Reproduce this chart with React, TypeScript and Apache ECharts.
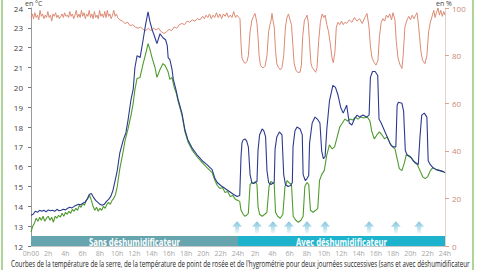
import React, { useEffect, useRef } from "react";
import * as echarts from "echarts";

// ---- Data (hour since start, value) ----
const temperature: [number, number][] = [
  [0, 13.55], [0.25, 13.6], [0.5, 13.75], [0.75, 13.7], [1.0, 13.8], [1.25, 13.75], [1.5, 13.8], [1.75, 13.72],
  [2.0, 13.82], [2.25, 13.78], [2.5, 13.8], [2.75, 13.75], [3.0, 13.85], [3.25, 13.78], [3.5, 13.8], [3.75, 13.85],
  [4.0, 13.82], [4.25, 13.9], [4.5, 13.95], [4.75, 13.92], [5.0, 14.0], [5.25, 14.05], [5.5, 14.1], [5.75, 14.08],
  [6.0, 14.15], [6.25, 14.2], [6.5, 14.35], [6.75, 14.6], [7.0, 14.65], [7.25, 14.45], [7.5, 14.3], [7.75, 14.2],
  [8.0, 14.1], [8.25, 14.05], [8.5, 14.1], [8.75, 14.25], [9.0, 14.35], [9.25, 14.5], [9.5, 14.8], [9.75, 15.3],
  [10.0, 15.8], [10.3, 16.7], [10.7, 17.35], [11.0, 17.7], [11.25, 18.35], [11.6, 19.4], [11.85, 19.9], [12.05, 21.0],
  [12.3, 21.6], [12.65, 21.5], [13.0, 22.4], [13.3, 23.2], [13.57, 23.8], [13.8, 23.3], [14.05, 22.9], [14.3, 22.6],
  [14.6, 22.2], [14.96, 22.7], [15.3, 22.5], [15.6, 22.4], [15.8, 22.1], [15.9, 21.5], [16.1, 21.4], [16.35, 20.9],
  [16.5, 20.4], [16.8, 19.9], [17.05, 19.4], [17.5, 18.7], [17.85, 17.85], [18.2, 17.35], [18.67, 16.95], [19.25, 16.6],
  [19.85, 16.3], [20.4, 16.1], [21.0, 15.85], [21.33, 15.4], [21.6, 15.2], [22.0, 15.05], [22.5, 14.9], [23.0, 14.75],
  [23.5, 14.6], [23.9, 14.5], [24.2, 14.55], [24.35, 16.5], [24.46, 17.2], [24.6, 17.35], [24.8, 17.4], [25.0, 17.3],
  [25.2, 17.0], [25.4, 15.6], [25.6, 15.2], [25.8, 15.15], [26.0, 15.2], [26.2, 15.25], [26.32, 16.8], [26.5, 17.6],
  [26.8, 17.9], [27.0, 17.8], [27.2, 17.5], [27.36, 15.8], [27.55, 15.2], [27.8, 15.1], [28.0, 15.15], [28.2, 15.2],
  [28.3, 16.9], [28.5, 17.5], [28.8, 17.75], [29.1, 17.6], [29.3, 15.6], [29.5, 15.1], [29.8, 15.0], [30.1, 15.05],
  [30.3, 15.2], [30.38, 17.0], [30.6, 17.8], [30.84, 18.0], [31.2, 17.9], [31.45, 17.6], [31.55, 15.6], [31.8, 15.3],
  [32.0, 15.4], [32.2, 15.55], [32.3, 17.2], [32.6, 18.2], [32.93, 18.5], [33.2, 18.4], [33.5, 18.2], [33.7, 16.8],
  [33.9, 16.4], [34.1, 16.5], [34.3, 17.9], [34.6, 19.3], [35.0, 20.1], [35.3, 20.0], [35.6, 19.6], [35.9, 19.0],
  [36.2, 18.7], [36.6, 19.1], [36.9, 18.2], [37.2, 18.1], [37.5, 18.4], [37.8, 18.6], [38.1, 18.5], [38.5, 18.6],
  [38.9, 18.5], [39.2, 18.6], [39.35, 20.5], [39.6, 20.8], [39.9, 20.8], [40.2, 20.6], [40.35, 18.4], [40.6, 18.2],
  [40.8, 18.0], [41.1, 17.7], [41.4, 17.4], [41.7, 17.1], [42.0, 17.0], [42.3, 17.0], [42.45, 19.1], [42.6, 19.25],
  [43.0, 19.2], [43.2, 18.8], [43.4, 16.8], [43.6, 16.6], [44.0, 16.5], [44.3, 16.3], [44.6, 16.2], [44.9, 16.1],
  [45.1, 17.5], [45.3, 18.6], [45.6, 18.7], [45.9, 18.5], [46.05, 16.3], [46.3, 16.1], [46.6, 15.95], [47.0, 15.85],
  [47.4, 15.8], [47.8, 15.75], [48.0, 15.7],
];

const dewPoint: [number, number][] = [
  [0, 12.7], [0.2, 13.0], [0.4, 13.15], [0.6, 13.4], [0.8, 13.25], [1.0, 13.45], [1.2, 13.3], [1.4, 13.5],
  [1.6, 13.25], [1.8, 13.4], [2.0, 13.5], [2.2, 13.3], [2.4, 13.45], [2.6, 13.2], [2.8, 13.5], [3.0, 13.4],
  [3.2, 13.55], [3.4, 13.45], [3.6, 13.65], [3.8, 13.5], [4.0, 13.7], [4.2, 13.6], [4.4, 13.75], [4.6, 13.65],
  [4.8, 13.85], [5.0, 13.75], [5.2, 13.9], [5.4, 13.8], [5.6, 14.05], [5.8, 13.95], [6.0, 14.15], [6.2, 14.05],
  [6.4, 14.3], [6.6, 14.4], [6.8, 14.55], [7.0, 14.3], [7.2, 14.0], [7.4, 13.8], [7.6, 13.95], [7.8, 13.75],
  [8.0, 13.9], [8.2, 13.8], [8.4, 14.0], [8.6, 13.9], [8.8, 14.1], [9.0, 14.2], [9.2, 14.1], [9.4, 14.3],
  [9.6, 14.4], [9.8, 14.6], [10.0, 15.0], [10.3, 15.9], [10.7, 16.8], [10.9, 17.3], [11.25, 17.9], [11.6, 18.6],
  [11.85, 19.2], [12.05, 19.9], [12.3, 20.45], [12.64, 20.5], [13.0, 21.2], [13.3, 21.7], [13.57, 22.2], [13.8, 21.9],
  [14.03, 21.5], [14.38, 21.0], [14.6, 20.5], [14.96, 20.9], [15.3, 21.2], [15.55, 21.1], [15.88, 20.8], [16.1, 20.4],
  [16.35, 20.5], [16.6, 20.0], [16.85, 19.7], [17.05, 19.3], [17.5, 18.6], [17.85, 17.75], [18.2, 17.25], [18.67, 16.85],
  [19.25, 16.5], [19.85, 16.2], [20.4, 15.95], [21.0, 15.7], [21.33, 15.3], [21.6, 15.05], [21.9, 14.9], [22.2, 14.95],
  [22.5, 14.7], [22.8, 14.75], [23.1, 14.5], [23.4, 14.55], [23.7, 14.35], [24.0, 14.3], [24.2, 14.25], [24.35, 13.8],
  [24.6, 13.6], [24.8, 13.5], [25.0, 13.55], [25.2, 13.65], [25.4, 15.1], [25.6, 15.2], [25.8, 15.15], [26.0, 15.25],
  [26.2, 15.1], [26.32, 14.0], [26.5, 13.6], [26.8, 13.5], [27.1, 13.6], [27.35, 13.7], [27.6, 15.0], [27.8, 15.25],
  [28.0, 15.2], [28.2, 15.15], [28.35, 13.7], [28.6, 13.5], [28.9, 13.4], [29.2, 13.6], [29.45, 15.0], [29.7, 15.3],
  [29.9, 15.2], [30.2, 15.1], [30.4, 13.5], [30.7, 13.3], [31.0, 13.2], [31.3, 13.3], [31.55, 13.5], [31.75, 15.0],
  [32.0, 15.2], [32.2, 15.1], [32.4, 13.8], [32.7, 13.7], [33.0, 13.8], [33.25, 13.9], [33.45, 15.3], [33.7, 15.6],
  [34.0, 15.8], [34.3, 16.6], [34.6, 17.1], [34.9, 16.9], [35.2, 17.0], [35.5, 17.5], [35.8, 18.0], [36.1, 18.2],
  [36.4, 18.4], [36.7, 18.3], [37.0, 18.4], [37.3, 18.35], [37.6, 18.5], [37.9, 18.4], [38.2, 18.5], [38.6, 18.45],
  [39.0, 18.5], [39.3, 18.3], [39.5, 17.8], [39.8, 17.4], [40.1, 17.6], [40.4, 17.75], [40.7, 17.6], [41.0, 17.4],
  [41.3, 17.5], [41.6, 17.2], [41.9, 17.0], [42.2, 16.9], [42.45, 16.4], [42.7, 15.9], [43.0, 15.8], [43.3, 16.2],
  [43.5, 16.6], [43.9, 16.5], [44.2, 16.4], [44.5, 16.2], [44.8, 16.1], [45.1, 15.8], [45.4, 15.5], [45.7, 15.4],
  [46.0, 15.5], [46.3, 15.8], [46.6, 15.95], [47.0, 15.85], [47.4, 15.8], [47.8, 15.75], [48.0, 15.7],
];

const humidity: [number, number][] = [
  [0, 96], [0.15, 97.5], [0.3, 95.5], [0.45, 98], [0.6, 96], [0.75, 97], [0.9, 95], [1.05, 99], [1.2, 96.5],
  [1.35, 97.5], [1.5, 95.5], [1.65, 97], [1.8, 96], [1.95, 98.5], [2.1, 96], [2.25, 97], [2.4, 94.5], [2.55, 97.5],
  [2.7, 96.5], [2.85, 98], [3.0, 96], [3.15, 97], [3.3, 95.5], [3.45, 96.5], [3.6, 97.5], [3.75, 96], [3.9, 98],
  [4.05, 96.5], [4.2, 97], [4.35, 96], [4.5, 98.5], [4.65, 96.5], [4.8, 97.5], [4.95, 95.5], [5.1, 97], [5.25, 99],
  [5.4, 96], [5.55, 97.5], [5.7, 96], [5.85, 99], [6.0, 96.5], [6.15, 98], [6.3, 95.5], [6.45, 97.5], [6.6, 96.5],
  [6.75, 99], [6.9, 96], [7.05, 97.5], [7.2, 95.5], [7.35, 98.5], [7.5, 96], [7.65, 97], [7.8, 95.5], [7.95, 99],
  [8.1, 96.5], [8.25, 97.5], [8.4, 96], [8.55, 98.5], [8.7, 96], [8.85, 99], [9.0, 96.5], [9.15, 97.5], [9.3, 95.5],
  [9.45, 97], [9.6, 99], [9.75, 96.5], [9.9, 97.5], [10.05, 96], [10.3, 95], [10.6, 94.5], [10.9, 93.5], [11.2, 94],
  [11.5, 92.5], [11.8, 93], [12.1, 92], [12.4, 91.5], [12.7, 92], [13.0, 91], [13.3, 90.5], [13.6, 91.5], [13.9, 90.5],
  [14.2, 91.5], [14.5, 90.8], [14.8, 91.5], [15.1, 90], [15.4, 89.3], [15.7, 90], [16.0, 91], [16.3, 90.5], [16.6, 92],
  [16.9, 91.5], [17.2, 93], [17.5, 93.5], [17.8, 93], [18.1, 94.5], [18.4, 94], [18.7, 95], [19.0, 94.5], [19.3, 95.5],
  [19.6, 95], [19.9, 96.5], [20.1, 95.5], [20.3, 97], [20.5, 96], [20.7, 97.5], [20.9, 95.5], [21.1, 97], [21.3, 96],
  [21.5, 98], [21.7, 96], [21.9, 97.5], [22.1, 95.5], [22.3, 97.5], [22.5, 96.5], [22.7, 98], [22.9, 96], [23.1, 97],
  [23.3, 96], [23.5, 98.5], [23.7, 96], [23.9, 97], [24.1, 96], [24.23, 95.5], [24.35, 85], [24.46, 79], [24.65, 77.5],
  [24.81, 76.7], [25.04, 77.5], [25.2, 80], [25.4, 90], [25.62, 95], [25.8, 96.5], [25.97, 97.7], [26.1, 95.5],
  [26.2, 93.5], [26.32, 88], [26.45, 80], [26.6, 76], [26.8, 75], [27.0, 75], [27.13, 75.5], [27.36, 80], [27.55, 90],
  [27.71, 93], [27.85, 95], [27.94, 97.7], [28.06, 94.7], [28.2, 92], [28.35, 82], [28.5, 76.5], [28.7, 75], [28.9, 74],
  [29.1, 75], [29.3, 80], [29.5, 92], [29.68, 96], [29.85, 97.5], [30.03, 95], [30.2, 93], [30.35, 85], [30.5, 77],
  [30.7, 74], [30.9, 73], [31.19, 73], [31.35, 76], [31.5, 88], [31.7, 95], [31.9, 96], [32.0, 97], [32.15, 94],
  [32.3, 85], [32.45, 77], [32.6, 75], [32.8, 74], [33.0, 73], [33.16, 75], [33.35, 86], [33.55, 94], [33.75, 97.5],
  [33.95, 96], [34.1, 97], [34.3, 93], [34.5, 90], [34.7, 85], [34.9, 79], [35.05, 77], [35.25, 82], [35.4, 92],
  [35.6, 94], [35.8, 93], [36.0, 94.5], [36.2, 93], [36.4, 94], [36.6, 93.5], [36.9, 95], [37.2, 94], [37.5, 96],
  [37.8, 94.5], [38.1, 95.5], [38.4, 93.5], [38.7, 96], [38.96, 97.7], [39.19, 92], [39.35, 84], [39.54, 79], [39.8, 77],
  [40.0, 76], [40.23, 78], [40.4, 88], [40.6, 94], [40.8, 95.5], [41.0, 94.5], [41.2, 97], [41.4, 96], [41.6, 97.5],
  [41.8, 95], [41.97, 98], [42.2, 95], [42.35, 86], [42.55, 79], [42.8, 76], [43.01, 74.6], [43.15, 80], [43.35, 92],
  [43.6, 95], [43.8, 96.5], [44.0, 95], [44.2, 97], [44.4, 95.5], [44.6, 97], [44.75, 98], [44.9, 94], [45.05, 88],
  [45.2, 82], [45.4, 78], [45.68, 76.6], [45.9, 80], [46.1, 90], [46.3, 94], [46.5, 96.5], [46.7, 99], [46.85, 96],
  [47.0, 98], [47.19, 100], [47.35, 97], [47.5, 99], [47.7, 96.5], [47.85, 98.5], [48.0, 97],
];

// hours where the dehumidifier is switched on (arrows)
const dehumidifierStarts = [23.9, 26.2, 28.05, 29.9, 32.0, 34.1, 39.2, 42.3, 45.0];
const arrowLevel = 12.95;

const periodLabels = ["Sans déshumidificateur", "Avec déshumidificateur"];
const periodBounds: [number, number][] = [[0, 24], [24, 48]];
const periodColors = ["#66a4ae", "#1db3cd"];

const leftUnit = "en °C";
const rightUnit = "en %";
const caption =
  "Courbes de la température de la serre, de la température de point de rosée et de l'hygrométrie pour deux journées successives (sans et avec déshumidificateur";

const FONT = "Open Sans";

function hourLabel(v: number): string {
  if (v === 0) return "0h00";
  const r = v % 24;
  return r === 0 ? "24h" : `${r}h`;
}

function measure(text: string, font: string): number {
  const ctx = document.createElement("canvas").getContext("2d");
  if (!ctx) return text.length * 5;
  ctx.font = font;
  return ctx.measureText(text).width;
}

export default function App() {
  const ref = useRef<HTMLDivElement>(null);
  useEffect(() => {
    if (!ref.current) return;
    const chart = echarts.init(ref.current, null, { renderer: "svg" });
    const arrowGradient = new echarts.graphic.LinearGradient(0, 0, 0, 1, [
      { offset: 0, color: "#7cc2dc" },
      { offset: 1, color: "#eef8fb" },
    ]);
    const bandFontSize = 11;
    const bandScales = periodLabels.map(
      (t) => 91 / measure(t, `bold ${bandFontSize}px "${FONT}"`)
    );
    const captionFontSize = 9;
    const captionScale = 459 / measure(caption, `${captionFontSize}px "${FONT}"`);

    const option: any = {
      animation: false,
      backgroundColor: "#ffffff",
      grid: { left: 31, right: 35, top: 8, bottom: 24 },
      xAxis: {
        type: "value",
        min: 0,
        max: 48,
        interval: 2,
        axisLine: { show: true, lineStyle: { color: "#c8c8c8", width: 1 } },
        axisTick: { show: false },
        splitLine: { show: false },
        axisLabel: { fontSize: 7, color: "#a6a6a6", margin: 4, fontFamily: FONT, formatter: hourLabel },
      },
      yAxis: [
        {
          type: "value",
          min: 12,
          max: 24,
          interval: 1,
          position: "left",
          axisLine: { show: true, lineStyle: { color: "#9a9a9a" } },
          axisTick: { show: true, length: 3, lineStyle: { color: "#777" } },
          axisLabel: { fontSize: 8, color: "#444", margin: 8, fontFamily: FONT },
          splitLine: { show: false },
        },
        {
          type: "value",
          min: 0,
          max: 100,
          interval: 20,
          position: "right",
          axisLine: { show: true, lineStyle: { color: "#e3d2cc" } },
          axisTick: { show: true, length: 4, lineStyle: { color: "#d9a493" } },
          axisLabel: { fontSize: 8, color: "#c98a77", margin: 7, fontFamily: FONT },
          splitLine: { show: false },
        },
      ],
      series: [
        {
          name: "Périodes",
          type: "custom",
          yAxisIndex: 0,
          silent: true,
          data: periodBounds.map((b, i) => [b[0], b[1], i]),
          encode: { x: [0, 1] },
          renderItem: (_params: any, api: any) => {
            const i = api.value(2);
            const p0 = api.coord([api.value(0), 12.5]);
            const p1 = api.coord([api.value(1), 12]);
            return {
              type: "group",
              children: [
                {
                  type: "rect",
                  shape: { x: p0[0], y: p0[1], width: p1[0] - p0[0], height: p1[1] - p0[1] },
                  style: { fill: periodColors[i] },
                },
                {
                  type: "text",
                  x: (p0[0] + p1[0]) / 2,
                  y: (p0[1] + p1[1]) / 2 + 0.5,
                  scaleX: bandScales[i],
                  style: {
                    text: periodLabels[i],
                    fill: "#ffffff",
                    fontWeight: "bold",
                    fontSize: bandFontSize,
                    fontFamily: FONT,
                    align: "center",
                    verticalAlign: "middle",
                  },
                },
              ],
            };
          },
        },
        {
          name: "Hygrométrie",
          type: "line",
          yAxisIndex: 1,
          data: humidity,
          showSymbol: false,
          lineStyle: { color: "#dc8a74", width: 1 },
          itemStyle: { color: "#dc8a74" },
        },
        {
          name: "Point de rosée",
          type: "line",
          yAxisIndex: 0,
          data: dewPoint,
          showSymbol: false,
          lineStyle: { color: "#4f9b2d", width: 1.1 },
          itemStyle: { color: "#4f9b2d" },
        },
        {
          name: "Température",
          type: "line",
          yAxisIndex: 0,
          data: temperature,
          showSymbol: false,
          lineStyle: { color: "#2b3a8f", width: 1.1 },
          itemStyle: { color: "#2b3a8f" },
        },
        {
          name: "Déshumidificateur",
          type: "scatter",
          yAxisIndex: 0,
          data: dehumidifierStarts.map((h) => [h, arrowLevel]),
          symbol: "path://M5 0 L10 6 L7 6 L7 13 L3 13 L3 6 L0 6 Z",
          symbolSize: [10, 12],
          itemStyle: { color: arrowGradient, opacity: 1 },
          silent: true,
        },
      ],
      graphic: [
        { type: "line", shape: { x1: 2, y1: 0, x2: 2, y2: 270 }, style: { stroke: "#95c679", lineWidth: 1.5 } },
        { type: "line", shape: { x1: 473, y1: 0, x2: 473, y2: 270 }, style: { stroke: "#95c679", lineWidth: 1.5 } },
        { type: "text", x: 25, y: 0, style: { text: leftUnit, fontSize: 7, fill: "#444", fontFamily: FONT, verticalAlign: "top" } },
        { type: "text", x: 436, y: 0, style: { text: rightUnit, fontSize: 7, fill: "#444", fontFamily: FONT, verticalAlign: "top" } },
        {
          type: "text",
          x: 11,
          y: 264,
          scaleX: captionScale,
          style: { text: caption, fontSize: captionFontSize, fill: "#222", fontFamily: FONT, verticalAlign: "middle" },
        },
      ],
    };
    chart.setOption(option);
    return () => chart.dispose();
  }, []);
  return (
    <div
      ref={ref}
      style={{ position: "fixed", left: 0, top: 0, width: 480, height: 270 }}
    />
  );
}
